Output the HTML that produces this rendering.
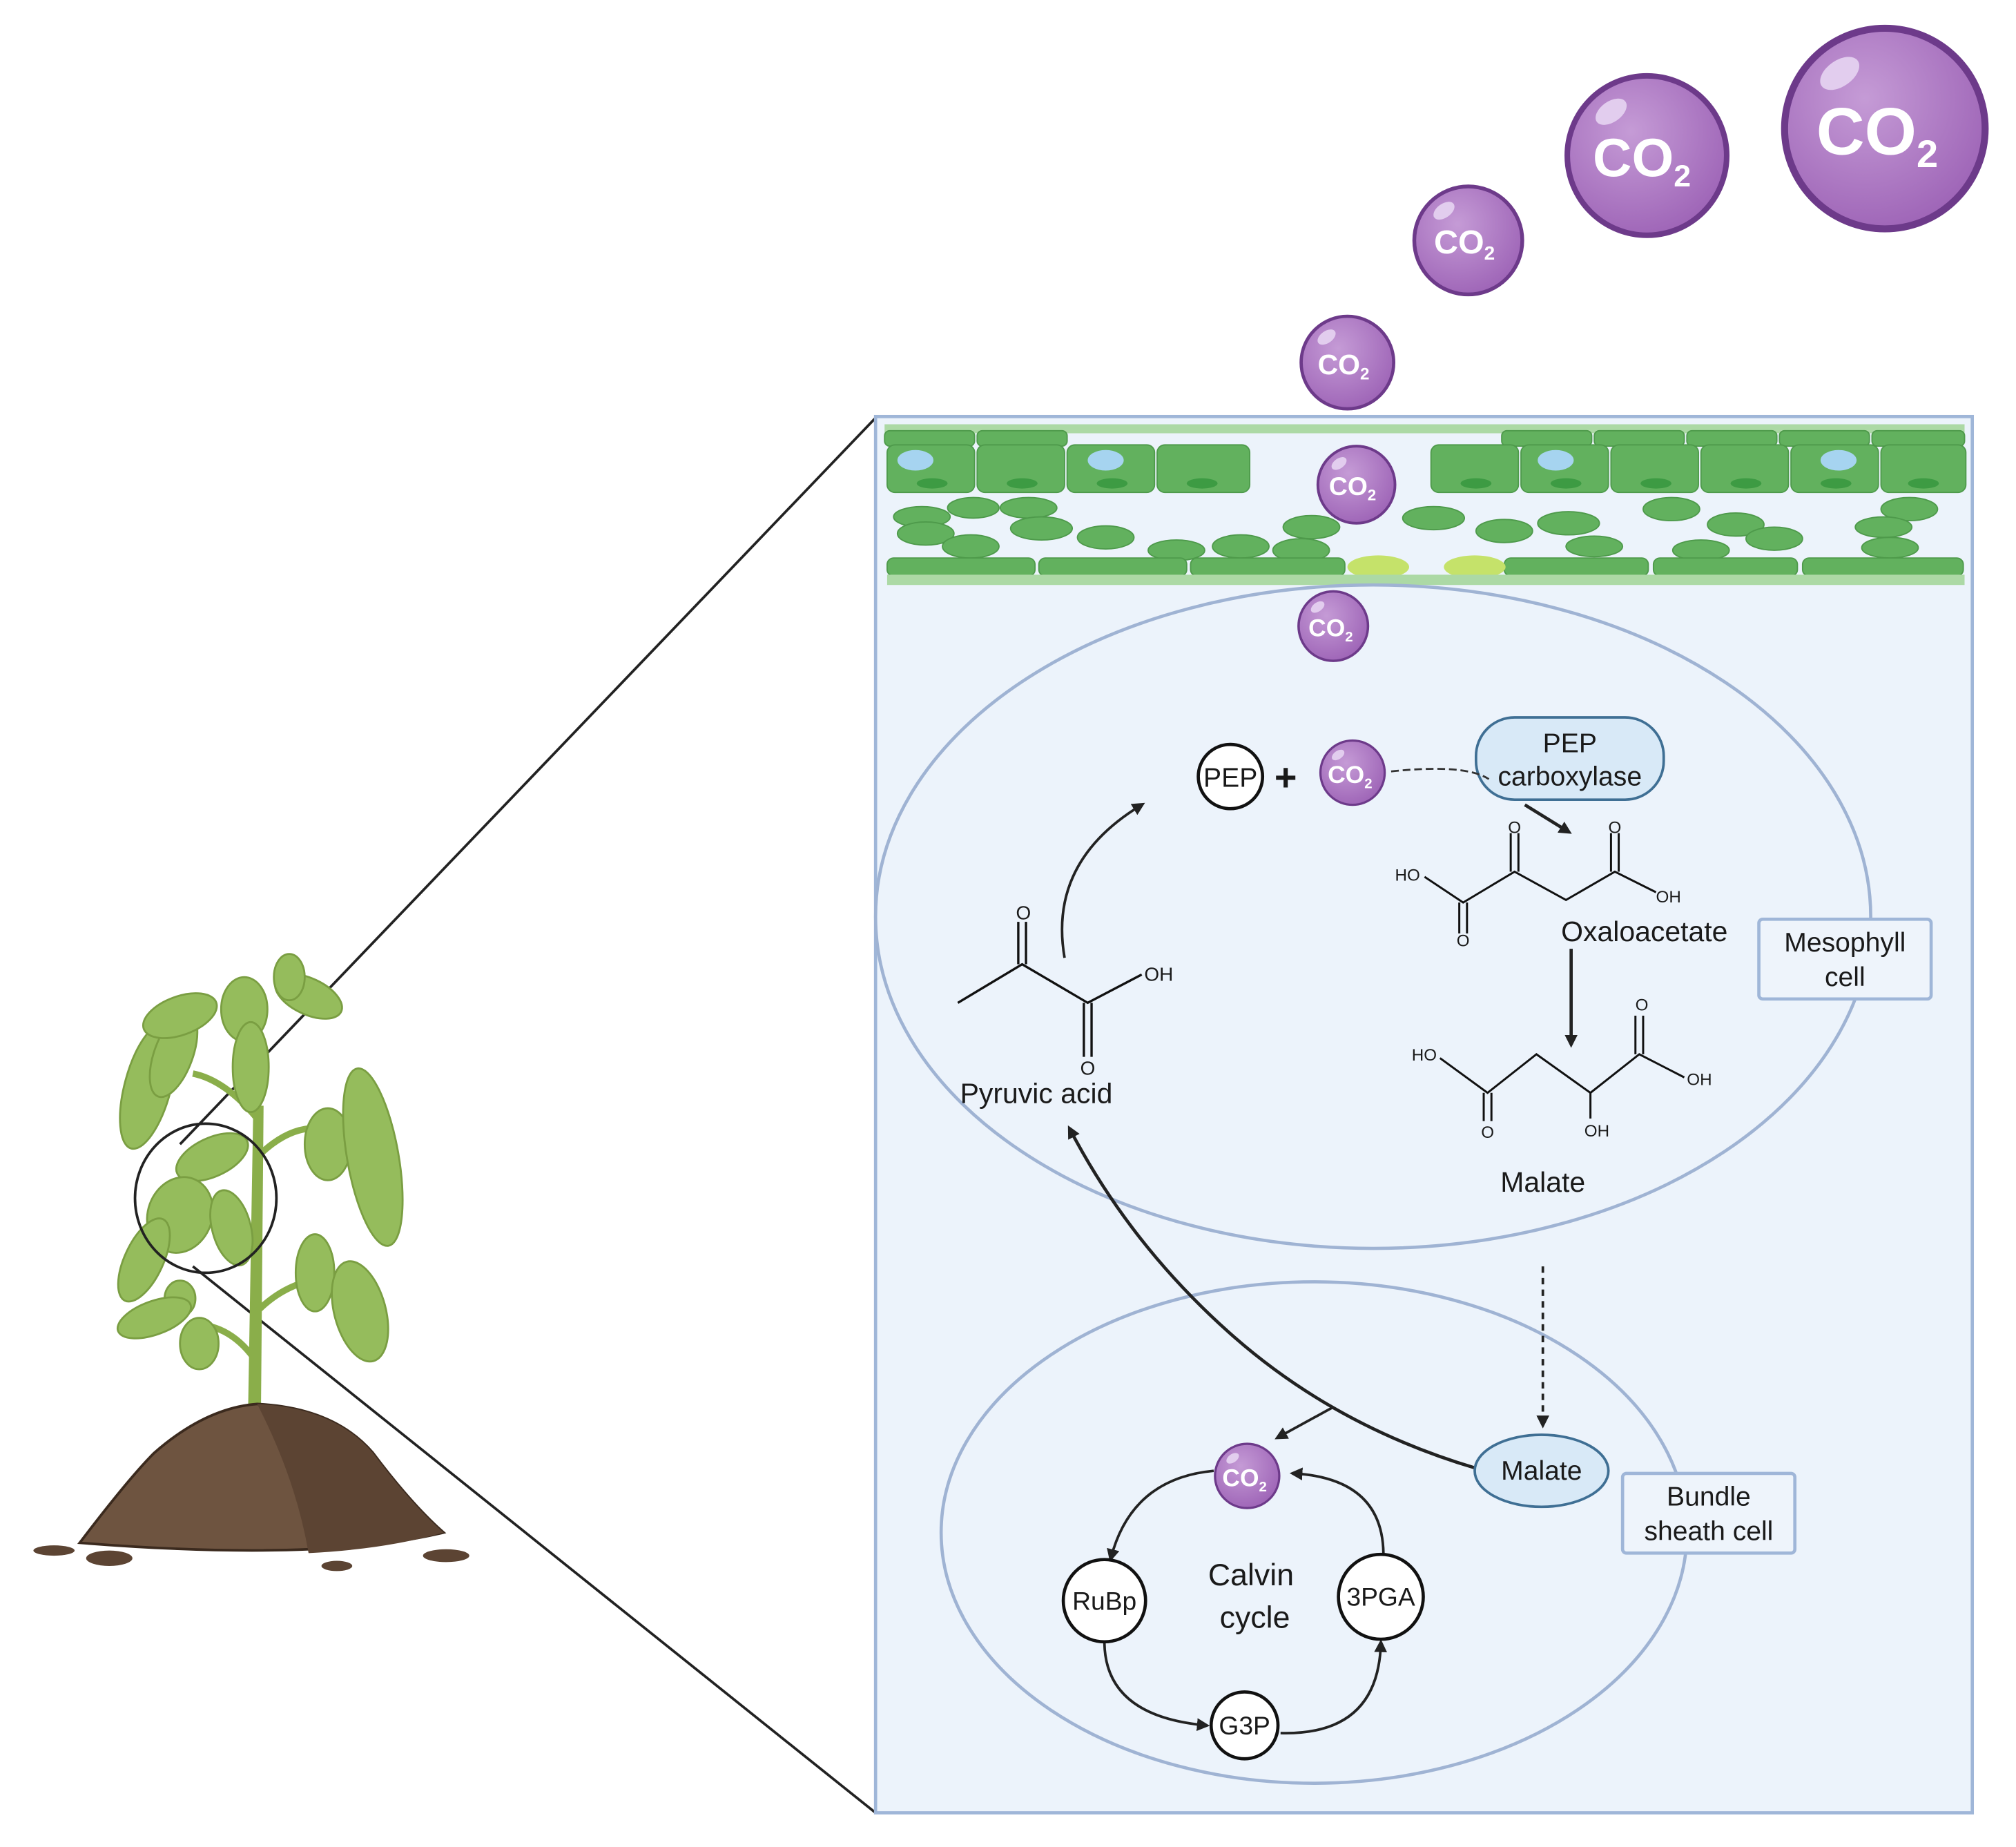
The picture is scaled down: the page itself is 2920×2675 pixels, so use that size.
<!DOCTYPE html>
<html><head><meta charset="utf-8"><style>
html,body{margin:0;padding:0;background:#fff;}
svg{display:block;}
text{font-family:"Liberation Sans",sans-serif;fill:#1a1a1a;}
</style></head><body>
<svg width="2920" height="2675" viewBox="0 0 1568 1436.6" preserveAspectRatio="none" xmlns="http://www.w3.org/2000/svg">
<defs>
<radialGradient id="co2" cx="0.4" cy="0.35" r="0.7">
<stop offset="0" stop-color="#c59bd6"/><stop offset="1" stop-color="#9d63b6"/></radialGradient>
<marker id="ah" markerWidth="10" markerHeight="10" refX="7" refY="5" orient="auto" markerUnits="userSpaceOnUse">
<path d="M0,0 L10,5 L0,10 z" fill="#222"/></marker>
<g id="bub"><circle r="1" fill="url(#co2)" stroke="#6d3a8a" stroke-width="0.07"/><ellipse cx="-0.45" cy="-0.55" rx="0.22" ry="0.13" fill="#e2cdee" transform="rotate(-35 -0.45 -0.55)"/></g>
</defs>

<!-- zoom lines -->
<line x1="140" y1="890" x2="681" y2="325" stroke="#222" stroke-width="2"/>
<line x1="150" y1="985" x2="681" y2="1410" stroke="#222" stroke-width="2"/>

<!-- plant -->
<g>
<path d="M193,1095 L197,860 L205,860 L203,1095 Z" fill="#8aae4a"/>
<path d="M200,980 Q170,940 140,950" stroke="#8aae4a" stroke-width="5" fill="none"/>
<path d="M200,1020 Q230,990 270,995" stroke="#8aae4a" stroke-width="5" fill="none"/>
<path d="M200,900 Q230,870 260,880" stroke="#8aae4a" stroke-width="5" fill="none"/>
<path d="M200,870 Q175,840 150,835" stroke="#8aae4a" stroke-width="5" fill="none"/>
<path d="M200,1060 Q180,1030 150,1030" stroke="#8aae4a" stroke-width="5" fill="none"/>
<g fill="#95bc5c" stroke="#7a9e42" stroke-width="1.5">
<ellipse cx="115" cy="845" rx="18" ry="50" transform="rotate(15 115 845)"/>
<ellipse cx="135" cy="820" rx="15" ry="35" transform="rotate(20 135 820)"/>
<ellipse cx="140" cy="790" rx="30" ry="15" transform="rotate(-20 140 790)"/>
<ellipse cx="190" cy="785" rx="18" ry="25"/>
<ellipse cx="240" cy="775" rx="28" ry="14" transform="rotate(25 240 775)"/>
<ellipse cx="225" cy="760" rx="12" ry="18"/>
<ellipse cx="195" cy="830" rx="14" ry="35"/>
<ellipse cx="165" cy="900" rx="30" ry="15" transform="rotate(-25 165 900)"/>
<ellipse cx="140" cy="945" rx="25" ry="30" transform="rotate(20 140 945)"/>
<ellipse cx="180" cy="955" rx="15" ry="30" transform="rotate(-15 180 955)"/>
<ellipse cx="112" cy="980" rx="15" ry="35" transform="rotate(25 112 980)"/>
<ellipse cx="140" cy="1010" rx="12" ry="14"/>
<ellipse cx="120" cy="1025" rx="30" ry="13" transform="rotate(-20 120 1025)"/>
<ellipse cx="155" cy="1045" rx="15" ry="20"/>
<ellipse cx="255" cy="890" rx="18" ry="28"/>
<ellipse cx="290" cy="900" rx="20" ry="70" transform="rotate(-10 290 900)"/>
<ellipse cx="245" cy="990" rx="15" ry="30"/>
<ellipse cx="280" cy="1020" rx="20" ry="40" transform="rotate(-15 280 1020)"/>
</g>
<path d="M62,1200 Q100,1150 120,1130 Q160,1095 200,1092 Q260,1095 290,1130 Q320,1170 345,1192 Q250,1215 62,1200 Z" fill="#6e5440" stroke="#3b2a1e" stroke-width="2"/>
<path d="M200,1092 Q260,1095 290,1130 Q320,1170 345,1192 Q300,1205 240,1208 Q230,1150 200,1092 Z" fill="#5c4433"/>
<ellipse cx="42" cy="1206" rx="16" ry="4" fill="#5c4433"/>
<ellipse cx="85" cy="1212" rx="18" ry="6" fill="#5c4433"/>
<ellipse cx="262" cy="1218" rx="12" ry="4" fill="#5c4433"/>
<ellipse cx="347" cy="1210" rx="18" ry="5" fill="#5c4433"/>
</g>
<ellipse cx="160" cy="932" rx="55" ry="58" fill="none" stroke="#222" stroke-width="2"/>

<!-- main rect -->
<rect x="681" y="324" width="853" height="1086" fill="#ecf3fb" stroke="#9fb6d8" stroke-width="2.5"/>

<!-- leaf layer -->
<rect x="688" y="330" width="840" height="7" fill="#acd9a5"/>
<g fill="#62b15e" stroke="#4e9a4b" stroke-width="1">
<rect x="688" y="335" width="70" height="12" rx="4"/><rect x="760" y="335" width="70" height="12" rx="4"/>
<rect x="1168" y="335" width="70" height="12" rx="4"/><rect x="1240" y="335" width="70" height="12" rx="4"/><rect x="1312" y="335" width="70" height="12" rx="4"/><rect x="1384" y="335" width="70" height="12" rx="4"/><rect x="1456" y="335" width="72" height="12" rx="4"/>
</g>
<g fill="#62b15e" stroke="#4e9a4b" stroke-width="1">
<rect x="690" y="346" width="68" height="37" rx="6"/><rect x="760" y="346" width="68" height="37" rx="6"/><rect x="830" y="346" width="68" height="37" rx="6"/><rect x="900" y="346" width="72" height="37" rx="6"/>
<rect x="1113" y="346" width="68" height="37" rx="6"/><rect x="1183" y="346" width="68" height="37" rx="6"/><rect x="1253" y="346" width="68" height="37" rx="6"/><rect x="1323" y="346" width="68" height="37" rx="6"/><rect x="1393" y="346" width="68" height="37" rx="6"/><rect x="1463" y="346" width="66" height="37" rx="6"/>
</g>
<g fill="#a6d4f0"><ellipse cx="712" cy="358" rx="14" ry="8"/><ellipse cx="860" cy="358" rx="14" ry="8"/><ellipse cx="1210" cy="358" rx="14" ry="8"/><ellipse cx="1430" cy="358" rx="14" ry="8"/></g>
<g fill="#3d9b43">
<ellipse cx="725" cy="376" rx="12" ry="4"/><ellipse cx="795" cy="376" rx="12" ry="4"/><ellipse cx="865" cy="376" rx="12" ry="4"/><ellipse cx="935" cy="376" rx="12" ry="4"/>
<ellipse cx="1148" cy="376" rx="12" ry="4"/><ellipse cx="1218" cy="376" rx="12" ry="4"/><ellipse cx="1288" cy="376" rx="12" ry="4"/><ellipse cx="1358" cy="376" rx="12" ry="4"/><ellipse cx="1428" cy="376" rx="12" ry="4"/><ellipse cx="1496" cy="376" rx="12" ry="4"/>
</g>
<g fill="#62b15e" stroke="#4e9a4b" stroke-width="1">
<ellipse cx="717" cy="402" rx="22" ry="8"/><ellipse cx="757" cy="395" rx="20" ry="8"/><ellipse cx="800" cy="395" rx="22" ry="8"/><ellipse cx="720" cy="415" rx="22" ry="9"/><ellipse cx="810" cy="411" rx="24" ry="9"/><ellipse cx="860" cy="418" rx="22" ry="9"/><ellipse cx="755" cy="425" rx="22" ry="9"/><ellipse cx="915" cy="428" rx="22" ry="8"/><ellipse cx="965" cy="425" rx="22" ry="9"/><ellipse cx="1020" cy="410" rx="22" ry="9"/><ellipse cx="1012" cy="428" rx="22" ry="9"/>
<ellipse cx="1115" cy="403" rx="24" ry="9"/><ellipse cx="1170" cy="413" rx="22" ry="9"/><ellipse cx="1220" cy="407" rx="24" ry="9"/><ellipse cx="1240" cy="425" rx="22" ry="8"/><ellipse cx="1300" cy="396" rx="22" ry="9"/><ellipse cx="1350" cy="408" rx="22" ry="9"/><ellipse cx="1380" cy="419" rx="22" ry="9"/><ellipse cx="1485" cy="396" rx="22" ry="9"/><ellipse cx="1465" cy="410" rx="22" ry="8"/><ellipse cx="1470" cy="426" rx="22" ry="8"/><ellipse cx="1323" cy="428" rx="22" ry="8"/>
</g>
<g fill="#62b15e" stroke="#4e9a4b" stroke-width="1">
<rect x="690" y="434" width="115" height="14" rx="5"/><rect x="808" y="434" width="115" height="14" rx="5"/><rect x="926" y="434" width="120" height="14" rx="5"/>
<rect x="1170" y="434" width="112" height="14" rx="5"/><rect x="1286" y="434" width="112" height="14" rx="5"/><rect x="1402" y="434" width="125" height="14" rx="5"/>
</g>
<ellipse cx="1072" cy="441" rx="24" ry="9" fill="#c5e26a"/><ellipse cx="1147" cy="441" rx="24" ry="9" fill="#c5e26a"/>
<rect x="690" y="447" width="838" height="8" fill="#acd9a5"/>

<!-- ellipses -->
<ellipse cx="1068" cy="713" rx="387" ry="258" fill="none" stroke="#9fb3d3" stroke-width="2.5"/>
<ellipse cx="1022" cy="1192" rx="290" ry="195" fill="none" stroke="#9fb3d3" stroke-width="2.5"/>

<!-- CO2 bubbles -->
<g font-weight="bold" text-anchor="middle">
<use href="#bub" transform="translate(1466,100) scale(78)"/><text x="1460" y="120" font-size="52" style="fill:#fff">CO<tspan font-size="30" dy="10">2</tspan></text>
<use href="#bub" transform="translate(1281,121) scale(62)"/><text x="1277" y="137" font-size="42" style="fill:#fff">CO<tspan font-size="24" dy="8">2</tspan></text>
<use href="#bub" transform="translate(1142,187) scale(42)"/><text x="1139" y="197" font-size="26" style="fill:#fff">CO<tspan font-size="15" dy="5">2</tspan></text>
<use href="#bub" transform="translate(1048,282) scale(36)"/><text x="1045" y="291" font-size="22" style="fill:#fff">CO<tspan font-size="13" dy="4">2</tspan></text>
<use href="#bub" transform="translate(1055,377) scale(30)"/><text x="1052" y="385" font-size="20" style="fill:#fff">CO<tspan font-size="12" dy="4">2</tspan></text>
<use href="#bub" transform="translate(1037,487) scale(27)"/><text x="1035" y="495" font-size="19" style="fill:#fff">CO<tspan font-size="11" dy="4">2</tspan></text>
<use href="#bub" transform="translate(1052,601) scale(25)"/><text x="1050" y="609" font-size="19" style="fill:#fff">CO<tspan font-size="11" dy="4">2</tspan></text>
<use href="#bub" transform="translate(970,1148) scale(25)"/><text x="968" y="1156" font-size="19" style="fill:#fff">CO<tspan font-size="11" dy="4">2</tspan></text>
</g>

<!-- PEP + -->
<circle cx="957" cy="604" r="25" fill="#fff" stroke="#111" stroke-width="2.5"/>
<text x="957" y="612" font-size="21" text-anchor="middle">PEP</text>
<text x="1000" y="615" font-size="30" font-weight="bold" text-anchor="middle">+</text>
<rect x="1148" y="558" width="146" height="64" rx="30" fill="#d8e9f7" stroke="#3f6f94" stroke-width="2"/>
<text x="1221" y="585" font-size="21" text-anchor="middle">PEP</text>
<text x="1221" y="611" font-size="21" text-anchor="middle">carboxylase</text>
<path d="M1082,600 Q1140,594 1158,606" fill="none" stroke="#333" stroke-width="1.5" stroke-dasharray="6,3"/>
<line x1="1186" y1="626" x2="1220" y2="647" stroke="#222" stroke-width="2.5" marker-end="url(#ah)"/>
<path d="M828,745 Q815,670 888,626" fill="none" stroke="#222" stroke-width="2" marker-end="url(#ah)"/>

<!-- pyruvic acid -->
<g stroke="#111" stroke-width="1.8" fill="none">
<polyline points="745,780 795,750 846,780 888,758"/>
<line x1="792" y1="750" x2="792" y2="717"/><line x1="798" y1="750" x2="798" y2="717"/>
<line x1="843" y1="780" x2="843" y2="822"/><line x1="849" y1="780" x2="849" y2="822"/>
</g>
<text x="796" y="715" font-size="15" text-anchor="middle">O</text>
<text x="846" y="836" font-size="15" text-anchor="middle">O</text>
<text x="890" y="763" font-size="15">OH</text>
<text x="806" y="858" font-size="22" text-anchor="middle">Pyruvic acid</text>

<!-- oxaloacetate -->
<g stroke="#111" stroke-width="1.6" fill="none">
<polyline points="1108,682 1138,702 1178,678 1218,700 1256,678 1288,694"/>
<line x1="1175" y1="678" x2="1175" y2="648"/><line x1="1181" y1="678" x2="1181" y2="648"/>
<line x1="1253" y1="678" x2="1253" y2="648"/><line x1="1259" y1="678" x2="1259" y2="648"/>
<line x1="1135" y1="702" x2="1135" y2="726"/><line x1="1141" y1="702" x2="1141" y2="726"/>
</g>
<text x="1178" y="648" font-size="13" text-anchor="middle">O</text>
<text x="1256" y="648" font-size="13" text-anchor="middle">O</text>
<text x="1138" y="736" font-size="13" text-anchor="middle">O</text>
<text x="1085" y="685" font-size="13">HO</text>
<text x="1288" y="702" font-size="13">OH</text>
<text x="1279" y="732" font-size="22" text-anchor="middle">Oxaloacetate</text>
<line x1="1222" y1="738" x2="1222" y2="812" stroke="#222" stroke-width="2.5" marker-end="url(#ah)"/>

<!-- malate -->
<g stroke="#111" stroke-width="1.6" fill="none">
<polyline points="1120,823 1157,850 1195,820 1237,850 1275,820 1310,838"/>
<line x1="1272" y1="820" x2="1272" y2="790"/><line x1="1278" y1="820" x2="1278" y2="790"/>
<line x1="1154" y1="850" x2="1154" y2="872"/><line x1="1160" y1="850" x2="1160" y2="872"/>
<line x1="1237" y1="850" x2="1237" y2="870"/>
</g>
<text x="1277" y="786" font-size="13" text-anchor="middle">O</text>
<text x="1157" y="885" font-size="13" text-anchor="middle">O</text>
<text x="1242" y="884" font-size="13" text-anchor="middle">OH</text>
<text x="1098" y="825" font-size="13">HO</text>
<text x="1312" y="844" font-size="13">OH</text>
<text x="1200" y="927" font-size="22" text-anchor="middle">Malate</text>

<!-- labels -->
<rect x="1368" y="715" width="134" height="62" rx="3" fill="#eef4fb" stroke="#9fb6d8" stroke-width="2.5"/>
<text x="1435" y="740" font-size="21" text-anchor="middle">Mesophyll</text>
<text x="1435" y="767" font-size="21" text-anchor="middle">cell</text>
<rect x="1262" y="1146" width="134" height="62" rx="3" fill="#eef4fb" stroke="#9fb6d8" stroke-width="2.5"/>
<text x="1329" y="1171" font-size="21" text-anchor="middle">Bundle</text>
<text x="1329" y="1198" font-size="21" text-anchor="middle">sheath cell</text>

<!-- transport -->
<line x1="1200" y1="985" x2="1200" y2="1108" stroke="#222" stroke-width="2" stroke-dasharray="5,4" marker-end="url(#ah)"/>
<path d="M1148,1142 Q1040,1110 960,1040 Q880,970 832,878" fill="none" stroke="#222" stroke-width="2.5" marker-end="url(#ah)"/>
<line x1="1036" y1="1095" x2="994" y2="1118" stroke="#222" stroke-width="2" marker-end="url(#ah)"/>
<ellipse cx="1199" cy="1144" rx="52" ry="28" fill="#d8e9f7" stroke="#3f6f94" stroke-width="2"/>
<text x="1199" y="1151" font-size="21" text-anchor="middle">Malate</text>

<!-- Calvin -->
<g fill="none" stroke="#222" stroke-width="2">
<path d="M944,1144 Q880,1150 864,1212" marker-end="url(#ah)"/>
<path d="M1076,1208 Q1075,1150 1006,1146" marker-end="url(#ah)"/>
<path d="M859,1278 Q860,1335 938,1342" marker-end="url(#ah)"/>
<path d="M996,1348 Q1072,1350 1074,1278" marker-end="url(#ah)"/>
</g>
<circle cx="859" cy="1245" r="32" fill="#fff" stroke="#111" stroke-width="2.5"/>
<text x="859" y="1252" font-size="20" text-anchor="middle">RuBp</text>
<circle cx="1074" cy="1242" r="33" fill="#fff" stroke="#111" stroke-width="2.5"/>
<text x="1074" y="1249" font-size="20" text-anchor="middle">3PGA</text>
<circle cx="968" cy="1342" r="26" fill="#fff" stroke="#111" stroke-width="2.5"/>
<text x="968" y="1349" font-size="20" text-anchor="middle">G3P</text>
<text x="973" y="1233" font-size="24" text-anchor="middle">Calvin</text>
<text x="976" y="1266" font-size="24" text-anchor="middle">cycle</text>
</svg>
</body></html>
